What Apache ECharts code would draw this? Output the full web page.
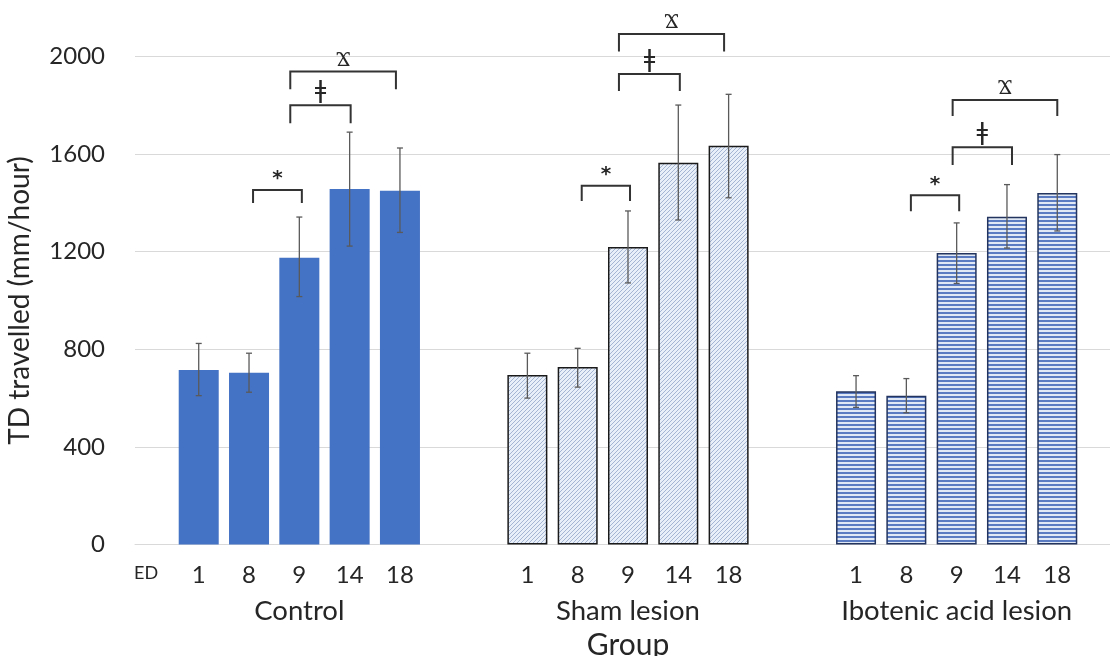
<!DOCTYPE html>
<html>
<head>
<meta charset="utf-8">
<script src="https://cdn.jsdelivr.net/npm/echarts@6/dist/echarts.min.js"></script>
<style>
html,body{margin:0;padding:0;background:#fff;}
#chart{width:1110px;height:656px;}
</style>
</head>
<body>
<div id="chart"></div>
<script>
// ---------- DATA ----------
const groups = ['Control', 'Sham lesion', 'Ibotenic acid lesion'];
const edDays = ['1', '8', '9', '14', '18'];
// mean TD travelled, per group, per ED
const controlMeans = [715, 704, 1175, 1457, 1450];
const shamMeans    = [695, 727, 1219, 1565, 1634];
const iboMeans     = [628, 610, 1195, 1343, 1441];
// error bar ends (low, high)
const controlLow  = [610, 624, 1016, 1223, 1279];
const controlHigh = [824, 784, 1342, 1690, 1625];
const shamLow     = [600, 645, 1072, 1330, 1421];
const shamHigh    = [784, 804, 1367, 1801, 1845];
const iboLow      = [562, 540, 1070, 1215, 1285];
const iboHigh     = [692, 680, 1318, 1475, 1598];
const yTicks = [0, 400, 800, 1200, 1600, 2000];
// significance brackets: group, from bar pos, to bar pos, top value, end value, symbol
const sigSymbols = ['*', 'ǂ', 'Ϫ'];
const brackets = [
  [0, 1.08, 2.05, 1453, 1400, 0],
  [0, 1.82, 3.02, 1800, 1726, 1],
  [0, 1.82, 3.92, 1939, 1866, 2],
  [1, 1.08, 2.04, 1470, 1408, 0],
  [1, 1.82, 3.03, 1928, 1859, 1],
  [1, 1.82, 3.91, 2092, 2020, 2],
  [2, 1.09, 2.05, 1431, 1366, 0],
  [2, 1.92, 3.10, 1628, 1555, 1],
  [2, 1.92, 4.00, 1822, 1756, 2]
];

// ---------- STYLES ----------
function makePattern(kind) {
  const c = document.createElement('canvas');
  const ctx = c.getContext('2d');
  c.width = 4; c.height = 4;
  if (kind === 'diag') {
    ctx.fillStyle = '#e9eff8';
    ctx.fillRect(0, 0, 4, 4);
    ctx.strokeStyle = '#a3b5d3';
    ctx.lineWidth = 1;
    ctx.beginPath();
    ctx.moveTo(-1, 5); ctx.lineTo(5, -1);
    ctx.moveTo(-1, 1); ctx.lineTo(1, -1);
    ctx.moveTo(3, 5); ctx.lineTo(5, 3);
    ctx.stroke();
  } else {
    ctx.fillStyle = '#e1e8f5';
    ctx.fillRect(0, 0, 4, 4);
    ctx.fillStyle = '#5a7bc2';
    ctx.fillRect(0, 0, 4, 2);
  }
  return c;
}
const groupStyles = [
  { color: '#4472c4', borderWidth: 0 },
  { color: { image: makePattern('diag'), repeat: 'repeat' }, borderColor: '#1a1a1a', borderWidth: 1.5 },
  { color: { image: makePattern('stripe'), repeat: 'repeat' }, borderColor: '#23355e', borderWidth: 1.5 }
];

const meansByGroup = [controlMeans, shamMeans, iboMeans];
const lowByGroup = [controlLow, shamLow, iboLow];
const highByGroup = [controlHigh, shamHigh, iboHigh];

const CAT_GAP = 0.266, BAR_GAP = 0.2575, NB = edDays.length;
function barX(api, g, pos) {
  const center = api.coord([g, 0])[0];
  const catW = api.size([1, 0])[0];
  const bw = catW * (1 - CAT_GAP) / (NB + (NB - 1) * BAR_GAP);
  const total = NB * bw + (NB - 1) * bw * BAR_GAP;
  return center - total / 2 + bw / 2 + pos * bw * (1 + BAR_GAP);
}

const barSeries = edDays.map((ed, i) => ({
  type: 'bar',
  name: ed,
  barCategoryGap: (CAT_GAP * 100) + '%',
  barGap: (BAR_GAP * 100) + '%',
  data: groups.map((g, gi) => ({ value: meansByGroup[gi][i], itemStyle: groupStyles[gi] })),
  label: {
    show: true, position: 'bottom', distance: 19,
    formatter: ed, fontSize: 24, color: '#262626', fontFamily: 'Lato'
  },
  emphasis: { disabled: true },
  z: 2
}));

const errData = [];
groups.forEach((g, gi) => edDays.forEach((ed, i) => {
  errData.push([gi, i, lowByGroup[gi][i], highByGroup[gi][i]]);
}));

const errSeries = {
  type: 'custom',
  data: errData,
  clip: false,
  z: 5,
  silent: true,
  encode: { x: 0, y: 3 },
  renderItem: function (params, api) {
    const g = api.value(0), i = api.value(1);
    const x = barX(api, g, i);
    const yl = api.coord([g, api.value(2)])[1];
    const yh = api.coord([g, api.value(3)])[1];
    const st = { stroke: '#5a5a5a', lineWidth: 1.3 };
    const cap = 3;
    return {
      type: 'group',
      children: [
        { type: 'line', shape: { x1: x, y1: yl, x2: x, y2: yh }, style: st },
        { type: 'line', shape: { x1: x - cap, y1: yl, x2: x + cap, y2: yl }, style: st },
        { type: 'line', shape: { x1: x - cap, y1: yh, x2: x + cap, y2: yh }, style: st }
      ]
    };
  }
};

const bracketSeries = {
  type: 'custom',
  data: brackets,
  clip: false,
  z: 6,
  silent: true,
  encode: { x: 0, y: 3 },
  renderItem: function (params, api) {
    const g = api.value(0);
    const x1 = barX(api, g, api.value(1));
    const x2 = barX(api, g, api.value(2));
    const yt = api.coord([g, api.value(3)])[1];
    const ye = api.coord([g, api.value(4)])[1];
    const k = api.value(5);
    const sym = sigSymbols[k];
    const st = { stroke: '#333333', lineWidth: 2, fill: null };
    const fs = [20, 25, 22][k];
    return {
      type: 'group',
      children: [
        { type: 'polyline', shape: { points: [[x1, ye], [x1, yt], [x2, yt], [x2, ye]] }, style: st },
        {
          type: 'text',
          style: {
            text: sym, x: (x1 + x2) / 2, y: yt - 1,
            align: 'center', verticalAlign: 'bottom',
            fontSize: fs, fontWeight: k === 0 ? 'bold' : 'normal',
            fontFamily: k === 2 ? 'Noto Sans' : 'DejaVu Sans', fill: '#262626'
          }
        }
      ]
    };
  }
};

const chart = echarts.init(document.getElementById('chart'), null, { renderer: 'canvas' });
chart.setOption({
  animation: false,
  backgroundColor: '#ffffff',
  textStyle: { fontFamily: 'Lato' },
  grid: { left: 135, top: 56.5, width: 986, height: 488, containLabel: false, outerBoundsMode: 'none' },
  xAxis: {
    type: 'category',
    data: groups,
    axisLine: { show: true, lineStyle: { color: '#d9d9d9', width: 1 } },
    axisTick: { show: false },
    axisLabel: { margin: 53, fontSize: 27.5, color: '#262626', fontFamily: 'Lato' },
    name: 'Group',
    nameLocation: 'middle',
    nameGap: 84,
    nameTextStyle: { fontSize: 30, color: '#262626', fontFamily: 'Lato' }
  },
  yAxis: {
    type: 'value',
    min: yTicks[0], max: yTicks[yTicks.length - 1], interval: yTicks[1] - yTicks[0],
    axisLine: { show: false },
    axisTick: { show: false },
    splitLine: { lineStyle: { color: '#d9d9d9', width: 1 } },
    axisLabel: { margin: 30, fontSize: 24, color: '#262626', fontFamily: 'Lato', formatter: v => String(v) },
    name: 'TD travelled (mm/hour)',
    nameLocation: 'middle',
    nameGap: 101,
    nameRotate: 90,
    nameTextStyle: { fontSize: 28, color: '#262626', fontFamily: 'Lato' }
  },
  graphic: [{
    type: 'text', left: 134, top: 564,
    style: { text: 'ED', fontSize: 18, fill: '#262626', fontFamily: 'Lato' }
  }],
  series: barSeries.concat([errSeries, bracketSeries])
});
</script>
</body>
</html>
